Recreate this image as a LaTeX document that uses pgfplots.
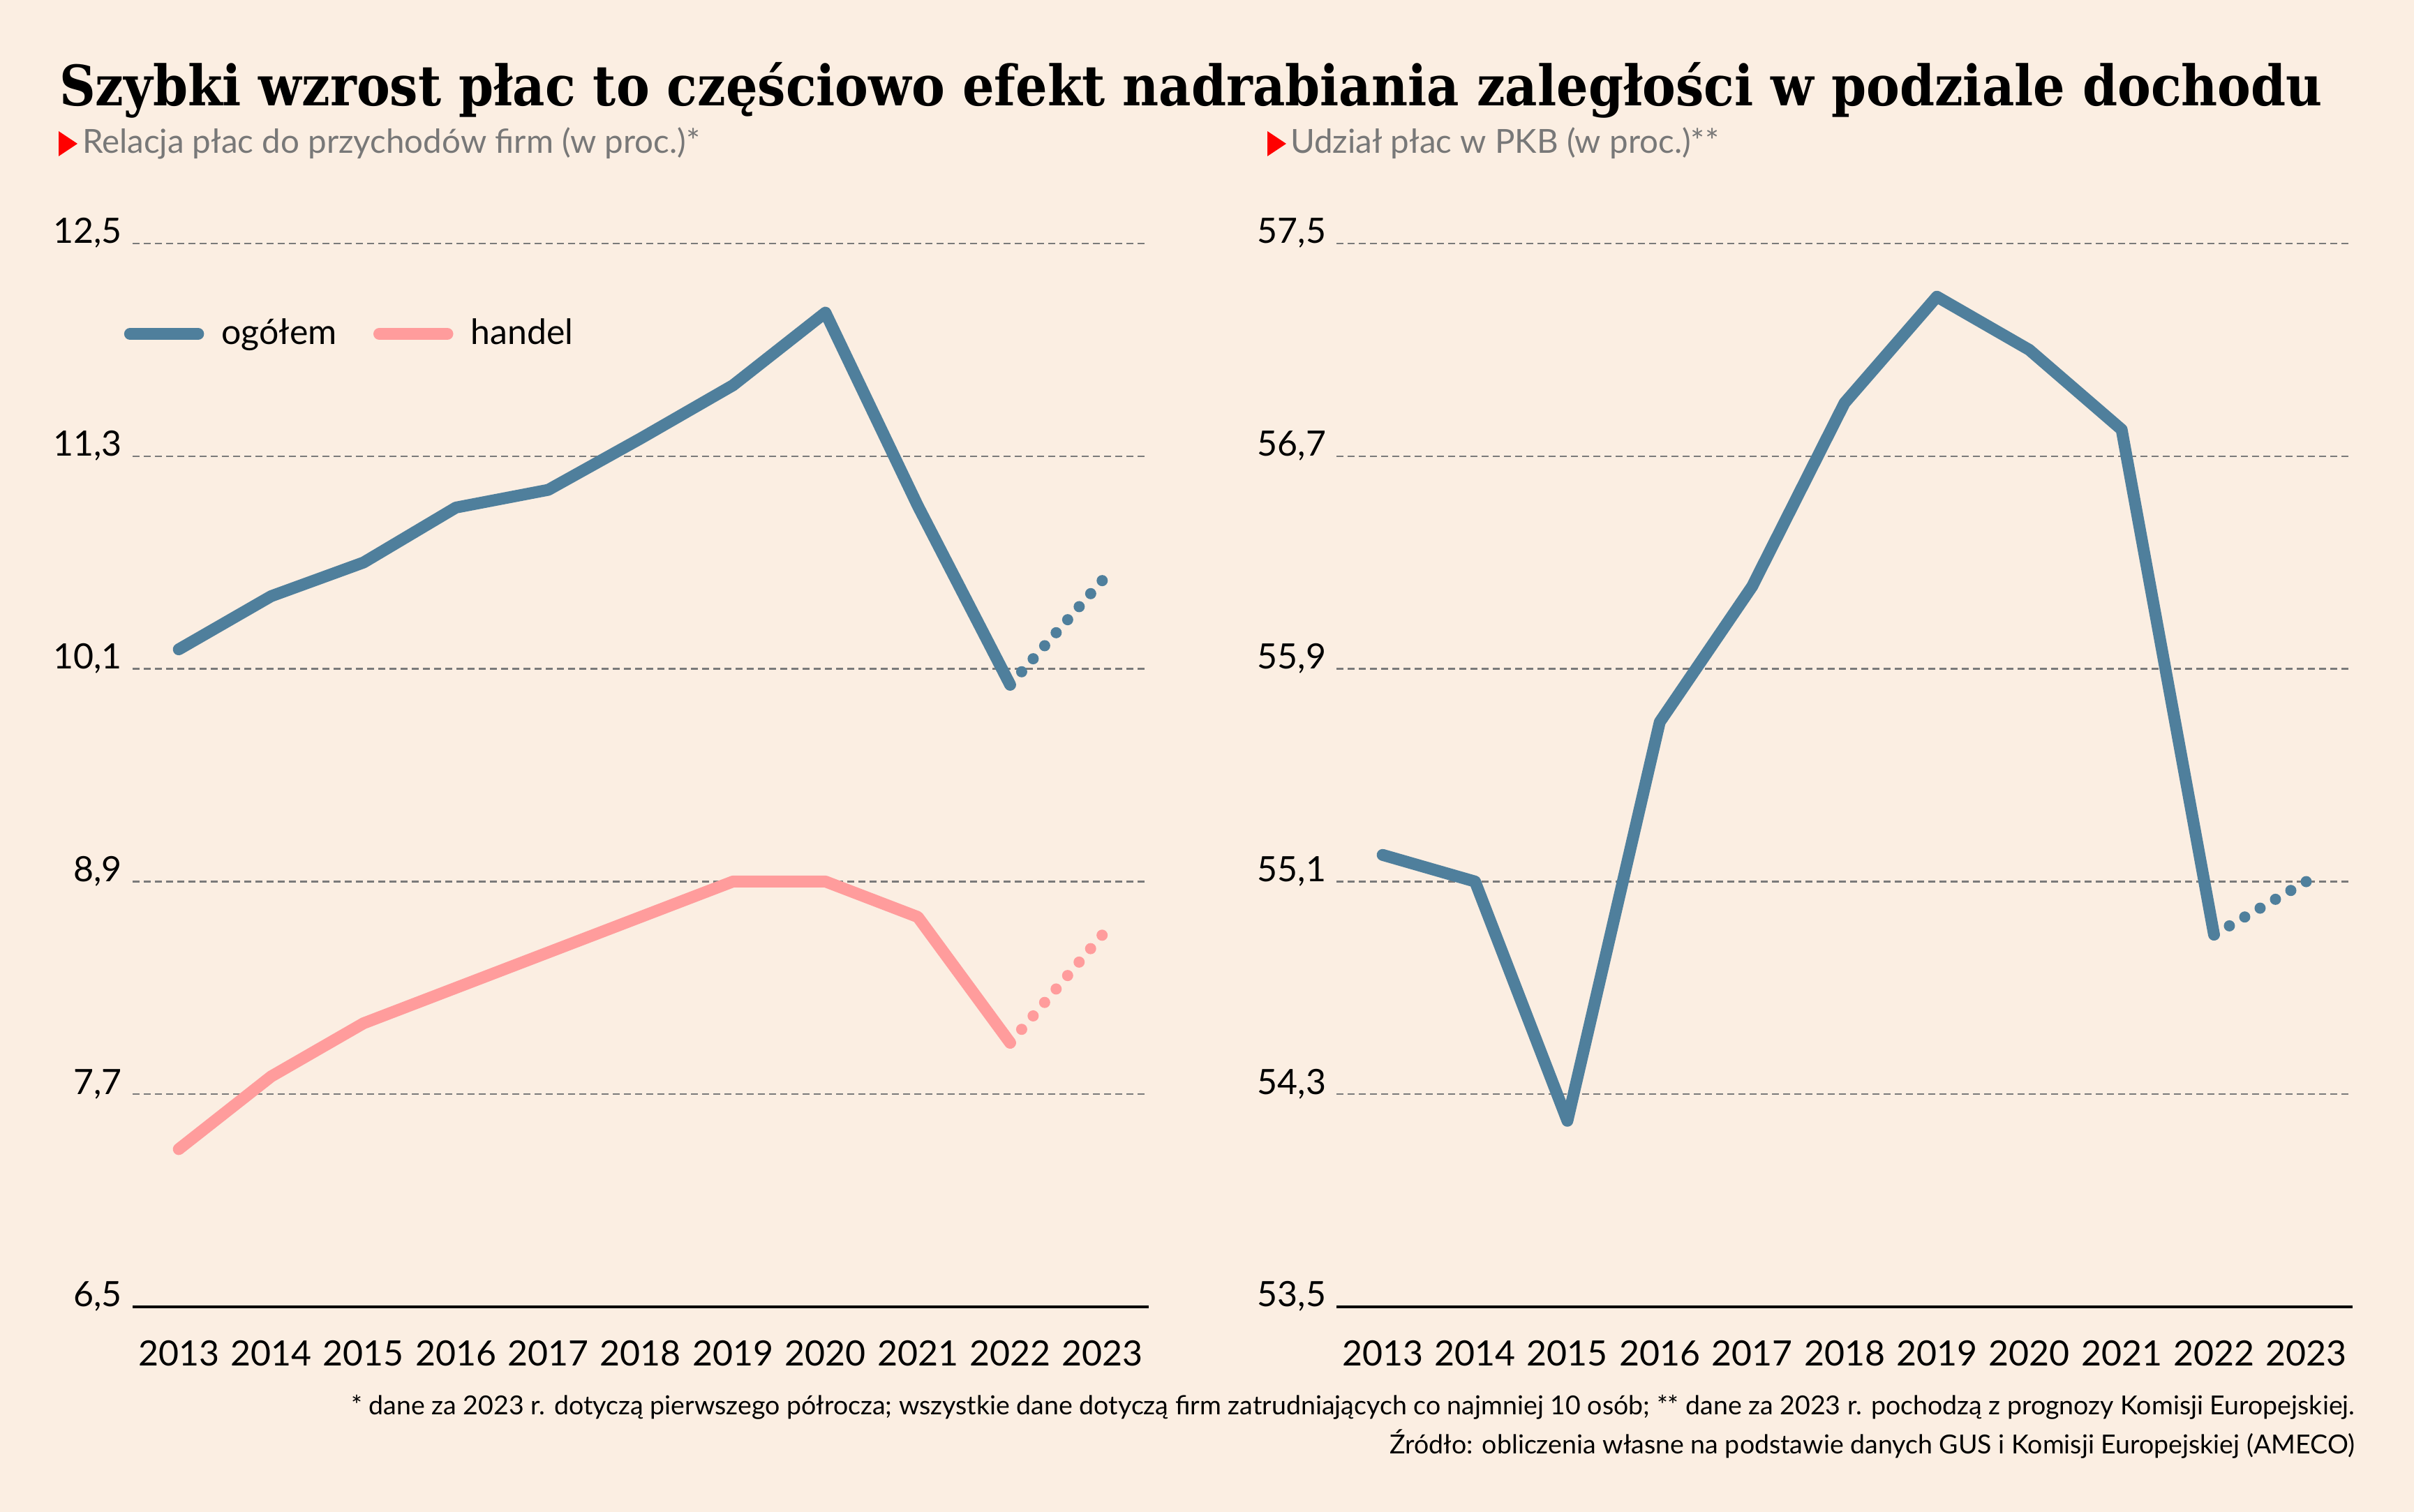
\documentclass[border=0pt]{standalone}
\usepackage{fontspec}
\setmainfont{Lato}
\newfontfamily\titlefont{DejaVu Serif}
\usepackage{pgfplots}
\pgfplotsset{compat=1.18}
\definecolor{bg}{HTML}{FBEEE2}
\definecolor{blueline}{HTML}{4F7F9C}
\definecolor{pinkline}{HTML}{FF9C9C}
\definecolor{gridgray}{HTML}{7A7A7A}
\definecolor{subgray}{HTML}{787878}
\pgfplotsset{
  panel/.style={
    scale only axis, width=291.2pt, height=304.8pt,
    xmin=2012.5, xmax=2023.5,
    xtick={2013,2014,2015,2016,2017,2018,2019,2020,2021,2022,2023},
    axis x line*=bottom, axis y line*=left,
    x axis line style={black, line width=0.8pt, -},
    y axis line style={draw=none},
    major tick length=0pt, tick style={draw=none},
    ymajorgrids, major grid style={gridgray, line width=0.45pt, dash pattern=on 2pt off 1.2pt},
    ticklabel style={font=\fontsize{10}{12}\selectfont},
    /pgf/number format/assume math mode=true,
    xticklabel style={/pgf/number format/1000 sep={}, anchor=north, inner sep=0pt, yshift=-9.4pt},
    yticklabel style={/pgf/number format/use comma, /pgf/number format/fixed, /pgf/number format/fixed zerofill, /pgf/number format/precision=1, anchor=base east, inner sep=0pt, xshift=-2.8pt},
    clip=false,
  },
  full/.style={line width=3.4pt, line cap=round, line join=round},
  dots/.style={line width=3.2pt, line cap=round, dash pattern=on 0pt off #1, forget plot},
}
\begin{document}
\begin{tikzpicture}
\useasboundingbox (0,0) rectangle (691.8pt,433.4pt);
\fill[bg] (0,0) rectangle (691.8pt,433.4pt);
% title
\node[anchor=base west, inner sep=0pt] at (16.8pt,403pt) {\resizebox{648.6pt}{\height}{\titlefont\bfseries\fontsize{16}{18}\selectfont Szybki wzrost płac to częściowo efekt nadrabiania zaległości w podziale dochodu}};
% subtitles
\fill[red] (16.8pt,395.8pt) -- (16.8pt,388.6pt) -- (22.2pt,392.2pt) -- cycle;
\node[anchor=base west, inner sep=0pt, text=subgray, font=\fontsize{9.5}{11}\selectfont] at (23.4pt,389.4pt) {Relacja płac do przychodów firm (w proc.)*};
\fill[red] (363.2pt,395.8pt) -- (363.2pt,388.6pt) -- (368.6pt,392.2pt) -- cycle;
\node[anchor=base west, inner sep=0pt, text=subgray, font=\fontsize{9.5}{11}\selectfont] at (369.6pt,389.4pt) {Udział płac w PKB (w proc.)**};
% footnotes
\node[anchor=base east, inner sep=0pt, font=\fontsize{7.5}{9}\selectfont] at (675pt,27.8pt) {* dane za 2023 r. dotyczą pierwszego półrocza; wszystkie dane dotyczą firm zatrudniających co najmniej 10 osób; ** dane za 2023 r. pochodzą z prognozy Komisji Europejskiej.};
\node[anchor=base east, inner sep=0pt, font=\fontsize{7.5}{9}\selectfont] at (675pt,16.6pt) {Źródło: obliczenia własne na podstawie danych GUS i Komisji Europejskiej (AMECO)};

\begin{axis}[panel, at={(38pt,58.8pt)}, anchor=south west,
  ymin=6.5, ymax=12.5, ytick={6.5,7.7,8.9,10.1,11.3,12.5},
  legend columns=2,
  legend image code/.code={\draw[#1, line width=3.4pt, line cap=round] (0pt,0pt) -- (19.5pt,0pt);},
  legend style={at={(-0.009,0.915)}, anchor=west, draw=none, fill=none, inner sep=0pt,
    font=\fontsize{10}{12}\selectfont,
    /tikz/every odd column/.append style={column sep=3pt},
    /tikz/every even column/.append style={column sep=8.5pt}},
]
\addplot[blueline, full] coordinates {(2013,10.21)(2014,10.51)(2015,10.70)(2016,11.01)(2017,11.11)(2018,11.40)(2019,11.70)(2020,12.11)(2021,11.02)(2022,10.01)};
\addlegendentry{ogółem}
\addplot[pinkline, full] coordinates {(2013,7.39)(2014,7.80)(2015,8.10)(2016,8.30)(2017,8.50)(2018,8.70)(2019,8.90)(2020,8.90)(2021,8.70)(2022,7.99)};
\addlegendentry{handel}
\addplot[blueline, dots=4.98pt] coordinates {(2022,10.01)(2023,10.60)};
\addplot[pinkline, dots=5.07pt] coordinates {(2022,7.99)(2023,8.60)};
\end{axis}

\begin{axis}[panel, at={(383pt,58.8pt)}, anchor=south west,
  ymin=53.5, ymax=57.5, ytick={53.5,54.3,55.1,55.9,56.7,57.5},
]
\addplot[blueline, full] coordinates {(2013,55.20)(2014,55.10)(2015,54.20)(2016,55.70)(2017,56.21)(2018,56.90)(2019,57.30)(2020,57.10)(2021,56.80)(2022,54.90)};
\addplot[blueline, dots=5.08pt] coordinates {(2022,54.90)(2023,55.10)};
\end{axis}
\end{tikzpicture}
\end{document}
